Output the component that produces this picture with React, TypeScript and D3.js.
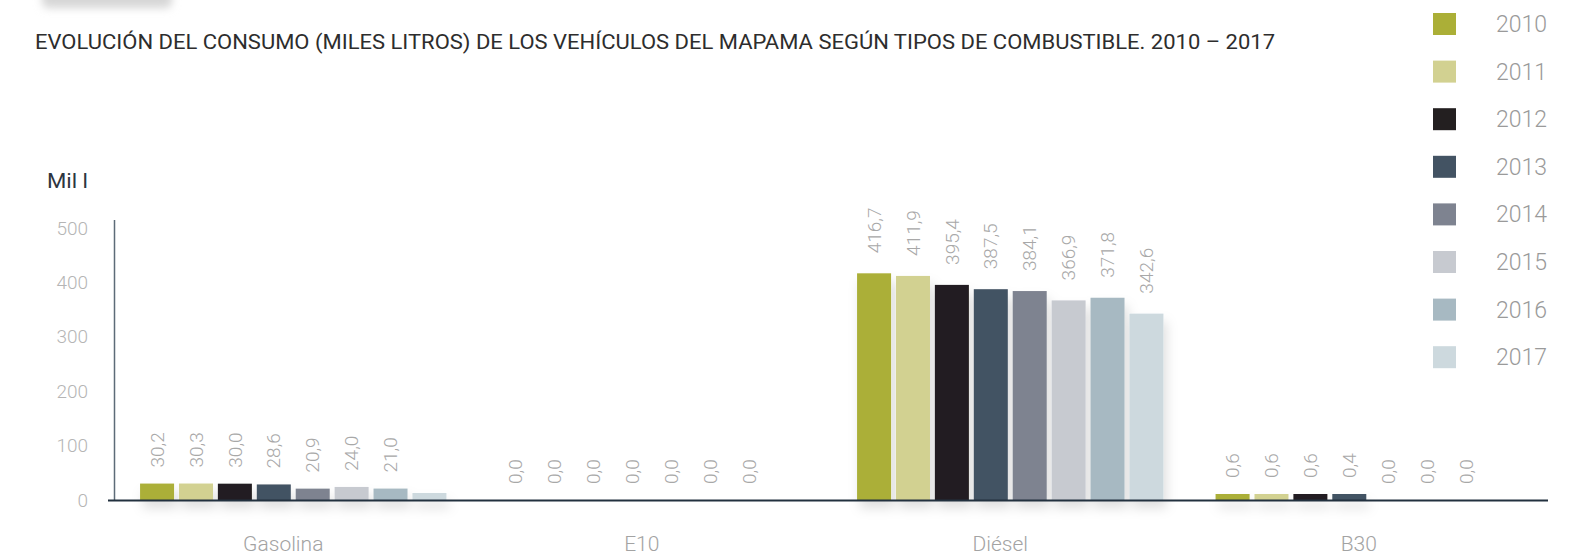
import React from "react";
import * as d3 from "d3";

const categories = ["Gasolina", "E10", "Diésel", "B30"];
const years = ["2010", "2011", "2012", "2013", "2014", "2015", "2016", "2017"];
const colors = ["#abaf37", "#d2d191", "#231f20", "#435363", "#7e8390", "#c7cad0", "#a7b9c2", "#cdd9de"];
const gasolina = [30.2, 30.3, 30.0, 28.6, 20.9, 24.0, 21.0, 12.9];
const e10 = [0, 0, 0, 0, 0, 0, 0, 0];
const diesel = [416.7, 411.9, 395.4, 387.5, 384.1, 366.9, 371.8, 342.6];
const b30 = [0.6, 0.6, 0.6, 0.4, 0, 0, 0, 0];
// labels shown (null = no label drawn)
const gasolinaLabels = [30.2, 30.3, 30.0, 28.6, 20.9, 24.0, 21.0, null];
const e10Labels = [0, 0, 0, 0, 0, 0, 0, null];
const dieselLabels = [416.7, 411.9, 395.4, 387.5, 384.1, 366.9, 371.8, 342.6];
const b30Labels = [0.6, 0.6, 0.6, 0.4, 0, 0, 0, null];
const yTicks = [0, 100, 200, 300, 400, 500];
const title = "EVOLUCIÓN DEL CONSUMO (MILES LITROS) DE LOS VEHÍCULOS DEL MAPAMA SEGÚN TIPOS DE COMBUSTIBLE. 2010 – 2017";
const yLabel = "Mil l";

const series = [gasolina, e10, diesel, b30];
const labelSeries = [gasolinaLabels, e10Labels, dieselLabels, b30Labels];

const W = 1583, H = 555;
const FONT = "Roboto, 'Open Sans', sans-serif";

export default function App() {
  const x0 = d3.scaleBand<string>().domain(categories).range([114, 1548]).padding(0);
  const x1 = d3.scaleBand<string>().domain(years).range([0, x0.bandwidth()]).paddingInner(0.126).paddingOuter(0.67);
  const y = d3.scaleLinear().domain([0, 500]).range([500, 228]);
  const fmt = (v: number) => v.toFixed(1).replace(".", ",");
  const minH = 6;

  return (
    <svg width={W} height={H} style={{ position: "absolute", left: 0, top: 0 }} fontFamily={FONT}>
      <defs>
        <filter id="blur" x="-20%" y="-200%" width="140%" height="500%">
          <feGaussianBlur stdDeviation="4" />
        </filter>
        <filter id="shadow" x="-10%" y="-10%" width="130%" height="140%">
          <feDropShadow dx="3" dy="8" stdDeviation="6" floodColor="#000" floodOpacity="0.13" />
        </filter>
      </defs>
      <rect x={42} y={-20} width={130} height={28} rx={6} fill="#d6d6d6" filter="url(#blur)" />
      <text x={35} y={49} fontSize={21} fill="#2d2d2d" textLength={1240} lengthAdjust="spacingAndGlyphs">{title}</text>
      <text x={47} y={188} fontSize={20} fill="#2d3540" fontWeight={400} textLength={41} lengthAdjust="spacingAndGlyphs">{yLabel}</text>

      {yTicks.map((t) => (
        <text key={t} x={88} y={y(t)} dy="0.35em" textAnchor="end" fontSize={19} fontWeight={300} fill="#b5b5b5">{t}</text>
      ))}

      <g filter="url(#shadow)">
        {categories.map((c, ci) =>
          series[ci].map((v, yi) => {
            if (v <= 0) return null;
            const h = Math.max(y(0) - y(v), minH);
            return (
              <rect key={c + yi} x={(x0(c) as number) + (x1(years[yi]) as number)} y={y(0) - h} width={x1.bandwidth()} height={h} fill={colors[yi]} />
            );
          })
        )}
      </g>

      {categories.map((c, ci) =>
        labelSeries[ci].map((l, yi) => {
          if (l === null) return null;
          const v = series[ci][yi];
          const h = v > 0 ? Math.max(y(0) - y(v), minH) : 0;
          const cx = (x0(c) as number) + (x1(years[yi]) as number) + x1.bandwidth() / 2;
          const ty = y(0) - h - (v > 100 ? 20 : 16);
          return (
            <text key={"l" + c + yi} transform={`translate(${cx},${ty}) rotate(-90)`} dy="0.35em" fontSize={19} fontWeight={300} fill="#a8a8a8">{fmt(l)}</text>
          );
        })
      )}

      <line x1={114.5} x2={114.5} y1={220} y2={500} stroke="#5d6b78" strokeWidth={1.5} />
      <line x1={108} x2={1548} y1={500.5} y2={500.5} stroke="#22313f" strokeWidth={2} />

      {categories.map((c) => (
        <text key={"x" + c} x={(x0(c) as number) + x0.bandwidth() / 2 - 10} y={551} textAnchor="middle" fontSize={21} fontWeight={300} fill="#a3a3a3">{c}</text>
      ))}

      {years.map((yr, i) => (
        <g key={"lg" + yr} transform={`translate(1433,${13 + i * 47.6})`}>
          <rect width={23} height={22} fill={colors[i]} />
          <text x={63} y={11} dy="0.35em" fontSize={23} fontWeight={300} fill="#9a9a9a">{yr}</text>
        </g>
      ))}
    </svg>
  );
}
